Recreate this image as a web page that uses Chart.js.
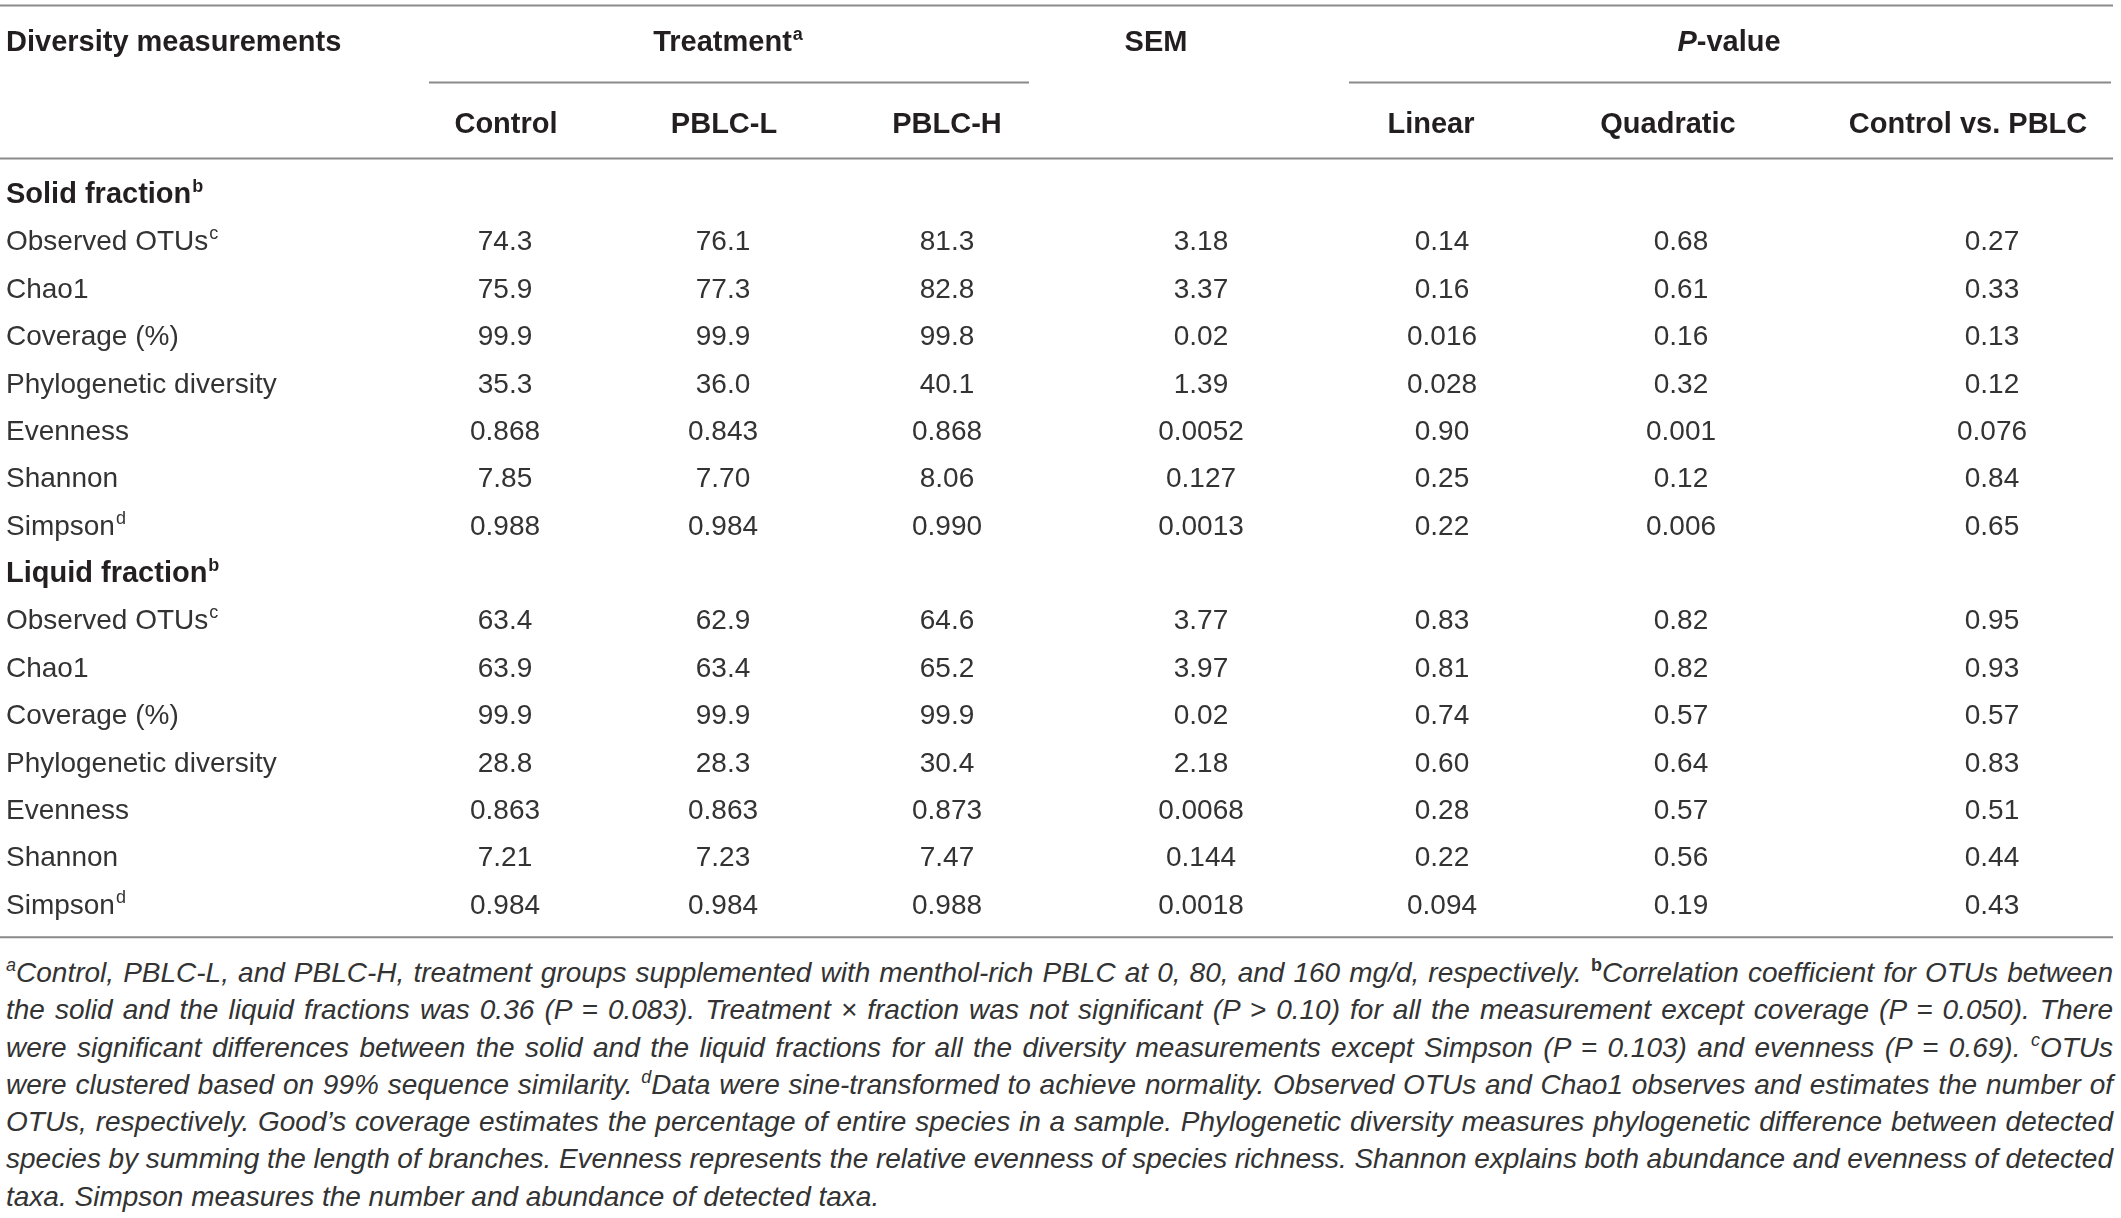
<!DOCTYPE html>
<html>
<head>
<meta charset="utf-8">
<title>Diversity measurements</title>
<script src="https://cdn.jsdelivr.net/npm/chart.js@4.4.1/dist/chart.umd.min.js"></script>
<style>
  html, body { margin: 0; padding: 0; background: #fff; }
  #wrap { position: absolute; left: 0; top: 0; width: 2121px; height: 950px; }
  #notes {
    position: absolute; left: 6px; top: 954px; width: 2107px;
    font-family: "Liberation Sans", Arial, sans-serif; font-style: italic;
    font-size: 28px; line-height: 37.3px; color: #333;
  }
  #notes .ln { white-space: nowrap; }
  #notes sup { font-size: 18px; line-height: 0; vertical-align: 11px; }
  #notes sup.b { font-weight: bold; font-style: normal; }
</style>
</head>
<body>
<div id="wrap"><canvas id="tbl"></canvas></div>
<div id="notes">
  <div class="ln"><span><sup>a</sup>Control, PBLC-L, and PBLC-H, treatment groups supplemented with menthol-rich PBLC at 0, 80, and 160 mg/d, respectively. <sup class="b">b</sup>Correlation coefficient for OTUs between</span></div>
  <div class="ln"><span>the solid and the liquid fractions was 0.36 (P = 0.083). Treatment × fraction was not significant (P &gt; 0.10) for all the measurement except coverage (P = 0.050). There</span></div>
  <div class="ln"><span>were significant differences between the solid and the liquid fractions for all the diversity measurements except Simpson (P = 0.103) and evenness (P = 0.69). <sup>c</sup>OTUs</span></div>
  <div class="ln"><span>were clustered based on 99% sequence similarity. <sup>d</sup>Data were sine-transformed to achieve normality. Observed OTUs and Chao1 observes and estimates the number of</span></div>
  <div class="ln"><span>OTUs, respectively. Good’s coverage estimates the percentage of entire species in a sample. Phylogenetic diversity measures phylogenetic difference between detected</span></div>
  <div class="ln"><span>species by summing the length of branches. Evenness represents the relative evenness of species richness. Shannon explains both abundance and evenness of detected</span></div>
  <div class="ln last"><span>taxa. Simpson measures the number and abundance of detected taxa.</span></div>
</div>
<script>
// table content
const fractions = ['Solid fraction', 'Liquid fraction'];
const measures = ['Observed OTUs', 'Chao1', 'Coverage (%)', 'Phylogenetic diversity', 'Evenness', 'Shannon', 'Simpson'];
const measureSup = ['c', '', '', '', '', '', 'd'];
const columns = ['Control', 'PBLC-L', 'PBLC-H', 'SEM', 'Linear', 'Quadratic', 'Control vs. PBLC'];
const subHeads = ['Control', 'PBLC-L', 'PBLC-H', '', 'Linear', 'Quadratic', 'Control vs. PBLC'];

const solidControl   = ['74.3', '75.9', '99.9', '35.3', '0.868', '7.85', '0.988'];
const solidPblcL     = ['76.1', '77.3', '99.9', '36.0', '0.843', '7.70', '0.984'];
const solidPblcH     = ['81.3', '82.8', '99.8', '40.1', '0.868', '8.06', '0.990'];
const solidSem       = ['3.18', '3.37', '0.02', '1.39', '0.0052', '0.127', '0.0013'];
const solidLinear    = ['0.14', '0.16', '0.016', '0.028', '0.90', '0.25', '0.22'];
const solidQuadratic = ['0.68', '0.61', '0.16', '0.32', '0.001', '0.12', '0.006'];
const solidContrast  = ['0.27', '0.33', '0.13', '0.12', '0.076', '0.84', '0.65'];

const liquidControl   = ['63.4', '63.9', '99.9', '28.8', '0.863', '7.21', '0.984'];
const liquidPblcL     = ['62.9', '63.4', '99.9', '28.3', '0.863', '7.23', '0.984'];
const liquidPblcH     = ['64.6', '65.2', '99.9', '30.4', '0.873', '7.47', '0.988'];
const liquidSem       = ['3.77', '3.97', '0.02', '2.18', '0.0068', '0.144', '0.0018'];
const liquidLinear    = ['0.83', '0.81', '0.74', '0.60', '0.28', '0.22', '0.094'];
const liquidQuadratic = ['0.82', '0.82', '0.57', '0.64', '0.57', '0.56', '0.19'];
const liquidContrast  = ['0.95', '0.93', '0.57', '0.83', '0.51', '0.44', '0.43'];

const solidCols  = [solidControl, solidPblcL, solidPblcH, solidSem, solidLinear, solidQuadratic, solidContrast];
const liquidCols = [liquidControl, liquidPblcL, liquidPblcH, liquidSem, liquidLinear, liquidQuadratic, liquidContrast];
const fractionCols = [solidCols, liquidCols];

// layout (table units = px across the page)
const TABLE_W = 2121;
const LABEL_X = 6;
const VALUE_X = [505, 723, 947, 1201, 1442, 1681, 1992];
const HEAD_X = [506, 724, 947, 1156, 1431, 1668, 1968];
const TREAT_X = 728, PVAL_X = 1729;
const REG = '28px "Liberation Sans", Arial, sans-serif';
const BOLD = 'bold 29px "Liberation Sans", Arial, sans-serif';
const SUP = '18px "Liberation Sans", Arial, sans-serif';
const SUPB = 'bold 18px "Liberation Sans", Arial, sans-serif';
const INK = '#333';
const INK_BOLD = '#231f20';
const RULE = '#8a8a8a';
const CAP = 10; // half cap height, to centre glyphs on a row

const nRows = fractions.length * (measures.length + 1);

// label column: one point per row
const labelData = [], labelText = [], labelBold = [], labelSup = [];
fractions.forEach((f, fi) => {
  const base = fi * (measures.length + 1);
  labelData.push({ x: LABEL_X, y: base });
  labelText.push(f); labelBold.push(true); labelSup.push('b');
  measures.forEach((m, mi) => {
    labelData.push({ x: LABEL_X, y: base + 1 + mi });
    labelText.push(m); labelBold.push(false); labelSup.push(measureSup[mi]);
  });
});

const datasets = [{
  label: 'labels', data: labelData, text: labelText, bold: labelBold, sup: labelSup, align: 'left'
}];
columns.forEach((c, ci) => {
  const data = [], text = [];
  fractionCols.forEach((cols, fi) => {
    const base = fi * (measures.length + 1);
    cols[ci].forEach((v, mi) => {
      data.push({ x: VALUE_X[ci], y: base + 1 + mi });
      text.push(v);
    });
  });
  datasets.push({ label: c, data, text, align: 'center' });
});

function drawText(ctx, str, x, y, font, align, sup, supFont) {
  ctx.font = font;
  const w = ctx.measureText(str).width;
  let sw = 0;
  if (sup) { ctx.font = supFont; sw = ctx.measureText(sup).width + 1; }
  const left = align === 'left' ? x : x - (w + sw) / 2;
  ctx.textAlign = 'left';
  ctx.font = font;
  ctx.fillText(str, left, y + CAP);
  if (sup) {
    ctx.font = supFont;
    ctx.fillText(sup, left + w + 1, y + CAP - 11);
  }
}

function hline(ctx, x0, x1, y) {
  ctx.beginPath();
  ctx.moveTo(x0, y); ctx.lineTo(x1, y);
  ctx.stroke();
}

const tablePlugin = {
  id: 'tableText',
  afterDatasetsDraw(chart) {
    const { ctx, scales: { x, y } } = chart;
    ctx.save();
    ctx.textBaseline = 'alphabetic';

    // body cells, positioned by the scales
    chart.data.datasets.forEach((ds, di) => {
      const meta = chart.getDatasetMeta(di);
      meta.data.forEach((pt, i) => {
        const bold = ds.bold && ds.bold[i];
        const sup = ds.sup ? ds.sup[i] : '';
        ctx.fillStyle = bold ? INK_BOLD : INK;
        drawText(ctx, ds.text[i], pt.x, pt.y, bold ? BOLD : REG, ds.align, sup, bold ? SUPB : SUP);
      });
    });

    // header rows above the body
    ctx.fillStyle = INK_BOLD;
    const top = y.getPixelForValue(-0.5);
    const h1 = top - 128, h2 = top - 46;
    drawText(ctx, 'Diversity measurements', x.getPixelForValue(LABEL_X), h1, BOLD, 'left');
    drawText(ctx, 'Treatment', x.getPixelForValue(TREAT_X), h1, BOLD, 'center', 'a', SUPB);
    drawText(ctx, 'SEM', x.getPixelForValue(HEAD_X[3]), h1, BOLD, 'center');
    // P-value: italic P
    ctx.font = 'italic ' + BOLD;
    const pw = ctx.measureText('P').width;
    ctx.font = BOLD;
    const vw = ctx.measureText('-value').width;
    const px0 = x.getPixelForValue(PVAL_X) - (pw + vw) / 2;
    ctx.font = 'italic ' + BOLD;
    ctx.fillText('P', px0, h1 + CAP);
    ctx.font = BOLD;
    ctx.fillText('-value', px0 + pw, h1 + CAP);

    subHeads.forEach((c, ci) => {
      if (c) drawText(ctx, c, x.getPixelForValue(HEAD_X[ci]), h2, BOLD, 'center');
    });

    // rules
    ctx.strokeStyle = RULE;
    ctx.lineWidth = 2;
    const x0 = x.getPixelForValue(0), x1 = x.getPixelForValue(2113);
    hline(ctx, x0, x1, top - 164);
    hline(ctx, x.getPixelForValue(429), x.getPixelForValue(1029), top - 87);
    hline(ctx, x.getPixelForValue(1349), x.getPixelForValue(2111), top - 87);
    hline(ctx, x0, x1, top - 11);
    hline(ctx, x0, x1, y.getPixelForValue(nRows - 0.5) + 10);
    ctx.restore();
  }
};

new Chart(document.getElementById('tbl'), {
  type: 'scatter',
  data: { datasets },
  options: {
    responsive: true,
    maintainAspectRatio: false,
    animation: false,
    events: [],
    layout: { padding: { top: 169.4, bottom: 22.7, left: 0, right: 0 } },
    elements: { point: { radius: 0 } },
    scales: {
      x: { type: 'linear', min: 0, max: TABLE_W, display: false },
      y: { type: 'linear', min: -0.5, max: nRows - 0.5, reverse: true, display: false }
    },
    plugins: { legend: { display: false }, tooltip: { enabled: false } }
  },
  plugins: [tablePlugin]
});

// justify each footnote line to the full table width
const NOTE_W = 2107;
document.querySelectorAll('#notes .ln').forEach(el => {
  if (el.classList.contains('last')) return;
  const span = el.firstElementChild;
  const w = span.getBoundingClientRect().width;
  const gaps = (span.textContent.trim().match(/ +/g) || []).length;
  if (gaps) span.style.wordSpacing = ((NOTE_W - w) / gaps) + 'px';
});
</script>
</body>
</html>
